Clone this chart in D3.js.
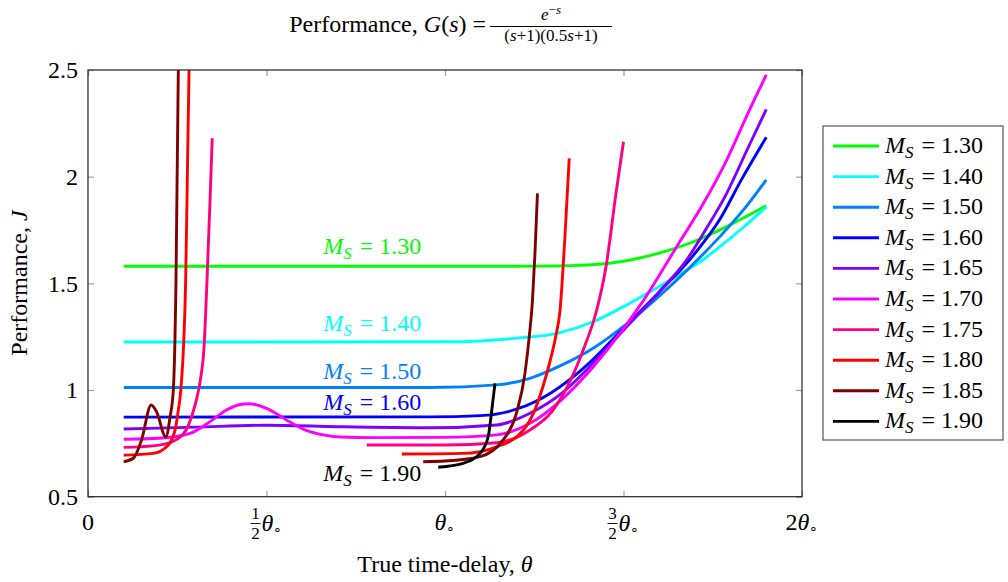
<!DOCTYPE html>
<html><head><meta charset="utf-8">
<script src="https://cdn.jsdelivr.net/npm/d3@7"></script>
<style>
body{margin:0;background:#fff;}
svg text{font-family:"Liberation Serif","Times New Roman",serif;fill:#000;}
</style>
</head><body>
<svg id="chart" width="1008" height="582"></svg>
<script>
// ---------- data ----------
const seriesLabels = ["1.30","1.40","1.50","1.60","1.65","1.70","1.75","1.80","1.85","1.90"];
const seriesColors = ["#00ff00","#00ffff","#0080ff","#0000ff","#8000ff","#ff00ff","#ff0080","#ff0000","#800000","#000000"];

const xTickValues = [0, 0.5, 1, 1.5, 2];
const xTickNum    = ["", "1", "", "3", ""];
const xTickDen    = ["", "2", "", "2", ""];
const xTickMain   = ["0", "θ", "θ", "θ", "2θ"];
const xTickSub    = ["", "∘", "∘", "∘", "∘"];
const yTickValues = [0.5, 1, 1.5, 2, 2.5];
const yTickLabels = ["0.5", "1", "1.5", "2", "2.5"];

// [theta / theta0, J]
const ms130 = [[0.1,1.58],[1.2,1.58],[1.35,1.583],[1.46,1.594],[1.6,1.642],[1.696,1.695],[1.789,1.766],[1.9,1.864]];
const ms140 = [[0.1,1.225],[1.0,1.226],[1.1,1.23],[1.2,1.243],[1.32,1.268],[1.415,1.32],[1.51,1.40],[1.6,1.485],[1.66,1.545],[1.724,1.612],[1.77,1.672],[1.836,1.763],[1.9,1.858]];
const ms150 = [[0.1,1.012],[0.96,1.012],[1.145,1.024],[1.238,1.055],[1.331,1.12],[1.415,1.196],[1.509,1.31],[1.6,1.44],[1.686,1.575],[1.77,1.719],[1.836,1.844],[1.9,1.985]];
const ms160 = [[0.1,0.873],[0.96,0.874],[1.1,0.88],[1.2,0.91],[1.3,0.99],[1.4,1.12],[1.5,1.29],[1.6,1.46],[1.69,1.62],[1.77,1.80],[1.83,1.985],[1.9,2.185]];
const ms165 = [[0.1,0.817],[0.3,0.826],[0.5,0.835],[0.7,0.828],[0.96,0.823],[1.145,0.836],[1.238,0.891],[1.331,0.99],[1.4,1.10],[1.5,1.28],[1.6,1.46],[1.677,1.61],[1.724,1.735],[1.789,1.922],[1.846,2.125],[1.9,2.316]];
const ms170 = [[0.1,0.769],[0.2,0.774],[0.286,0.797],[0.342,0.852],[0.388,0.906],[0.426,0.932],[0.45,0.936],[0.5,0.914],[0.566,0.85],[0.613,0.81],[0.659,0.79],[0.706,0.78],[0.8,0.777],[1.0,0.778],[1.145,0.79],[1.238,0.844],[1.33,0.96],[1.4,1.08],[1.46,1.2],[1.556,1.42],[1.649,1.672],[1.724,1.875],[1.789,2.078],[1.853,2.313],[1.9,2.477]];
const ms175Left  = [[0.1,0.731],[0.2,0.742],[0.25,0.77],[0.28,0.83],[0.3,0.93],[0.315,1.05],[0.325,1.2],[0.333,1.5],[0.341,1.85],[0.348,2.18]];
const ms175Right = [[0.781,0.742],[1.0,0.742],[1.145,0.753],[1.238,0.813],[1.3,0.9],[1.35,1.04],[1.39,1.2],[1.425,1.375],[1.451,1.578],[1.479,1.922],[1.5,2.164]];
const ms180Left  = [[0.1,0.695],[0.183,0.703],[0.22,0.734],[0.244,0.813],[0.253,0.906],[0.26,1.0],[0.2736,1.516],[0.279,2.08],[0.283,2.5]];
const ms180Right = [[0.879,0.7],[1.05,0.703],[1.145,0.734],[1.22,0.813],[1.25,0.9],[1.275,1.02],[1.295,1.14],[1.31,1.25],[1.322,1.37],[1.336,1.72],[1.348,2.086]];
const ms185Left  = [[0.1,0.664],[0.127,0.68],[0.15,0.766],[0.177,0.93],[0.192,0.898],[0.218,0.78],[0.23,0.875],[0.239,1.0],[0.2465,1.516],[0.253,2.5]];
const ms185Right = [[0.939,0.664],[1.0,0.667],[1.098,0.6875],[1.163,0.766],[1.2,0.891],[1.224,1.078],[1.236,1.25],[1.245,1.42],[1.252,1.64],[1.259,1.922]];
const ms190 = [[0.981,0.638],[1.05,0.656],[1.098,0.703],[1.121,0.781],[1.13,0.891],[1.14,1.031]];

const seriesSegments = [[ms130],[ms140],[ms150],[ms160],[ms165],[ms170],[ms175Left,ms175Right],[ms180Left,ms180Right],[ms185Left,ms185Right],[ms190]];

// inline labels: series index, theta, J (baseline)
const inlineLabelSeries = [0, 1, 2, 3, 9];
const inlineLabelTheta  = [0.796, 0.796, 0.796, 0.796, 0.796];
const inlineLabelJ      = [1.638, 1.275, 1.052, 0.906, 0.573];

// ---------- drawing ----------
const svg = d3.select("#chart");
const FS = 24;
const x = d3.scaleLinear().domain([0, 2]).range([88, 802]);
const y = d3.scaleLinear().domain([0.5, 2.5]).range([496.7, 70]);
const [x0, x1] = x.range(), [yb, yt] = y.range();

svg.append("defs").append("clipPath").attr("id","plotclip")
  .append("rect").attr("x",x0).attr("y",yt).attr("width",x1-x0).attr("height",yb-yt);

function styleAxis(g){
  g.select(".domain").remove();
  g.selectAll(".tick line").attr("stroke","#a0a0a0").attr("stroke-width",1.2);
  g.attr("font-family",null).attr("font-size",FS);
}
svg.append("g").attr("transform",`translate(0,${yb})`)
  .call(d3.axisBottom(x).tickValues(xTickValues).tickSize(-6).tickFormat("")).call(styleAxis);
svg.append("g").attr("transform",`translate(0,${yt})`)
  .call(d3.axisTop(x).tickValues(xTickValues).tickSize(-6).tickFormat("")).call(styleAxis);
svg.append("g").attr("transform",`translate(${x0},0)`)
  .call(d3.axisLeft(y).tickValues(yTickValues).tickSize(-6).tickPadding(10)
    .tickFormat((d,i)=>yTickLabels[i])).call(styleAxis);
svg.append("g").attr("transform",`translate(${x1},0)`)
  .call(d3.axisRight(y).tickValues(yTickValues).tickSize(-6).tickFormat("")).call(styleAxis);

// x tick labels
xTickValues.forEach((v,i)=>{
  const tx = x(v);
  const g = svg.append("g");
  if (xTickNum[i]) {
    const fx = tx - 11;
    g.append("text").attr("x",fx).attr("y",519).attr("text-anchor","middle").attr("font-size",17).text(xTickNum[i]);
    g.append("line").attr("x1",fx-5).attr("x2",fx+5).attr("y1",523.5).attr("y2",523.5).attr("stroke","#000").attr("stroke-width",0.9);
    g.append("text").attr("x",fx).attr("y",539).attr("text-anchor","middle").attr("font-size",17).text(xTickDen[i]);
    const t = g.append("text").attr("x",tx-5).attr("y",531).attr("font-size",FS);
    t.append("tspan").attr("font-style","italic").text(xTickMain[i]);
    t.append("tspan").attr("font-size",14).attr("dy",3).text(xTickSub[i]);
  } else {
    const t = g.append("text").attr("x",tx).attr("y",530).attr("text-anchor","middle").attr("font-size",FS);
    if (xTickMain[i] === "0") { t.text("0"); }
    else {
      const m = xTickMain[i];
      if (m.length > 1) t.append("tspan").text(m.slice(0, m.length-1));
      t.append("tspan").attr("font-style","italic").text(m.slice(-1));
      t.append("tspan").attr("font-size",14).attr("dy",3).text(xTickSub[i]);
    }
  }
});

// lines
const line = d3.line().x(d=>x(d[0])).y(d=>y(d[1])).curve(d3.curveMonotoneX);
const plot = svg.append("g").attr("clip-path","url(#plotclip)");
seriesSegments.forEach((segs,i)=>{
  segs.forEach(seg=>{
    plot.append("path").attr("d",line(seg)).attr("fill","none")
      .attr("stroke",seriesColors[i]).attr("stroke-width",2.9)
      .attr("stroke-linejoin","round");
  });
});

// frame
svg.append("rect").attr("x",x0).attr("y",yt).attr("width",x1-x0).attr("height",yb-yt)
  .attr("fill","none").attr("stroke","#222").attr("stroke-width",1.2);

function msText(t, label){
  t.append("tspan").attr("font-style","italic").text("M");
  t.append("tspan").attr("font-style","italic").attr("font-size",17).attr("dy",5).text("S");
  t.append("tspan").attr("dy",-5).text("\u2004=\u2005" + label);
}

// inline labels
inlineLabelSeries.forEach((si,k)=>{
  const t = svg.append("text").attr("x",x(inlineLabelTheta[k])).attr("y",y(inlineLabelJ[k]))
    .attr("text-anchor","middle").attr("font-size",FS).style("fill",seriesColors[si]);
  msText(t, seriesLabels[si]);
});

// legend
const lg = svg.append("g");
lg.append("rect").attr("x",823).attr("y",126).attr("width",180).attr("height",314)
  .attr("fill","#fff").attr("stroke","#555").attr("stroke-width",1.2);
seriesLabels.forEach((lab,i)=>{
  const cy = 146 + i*30.6;
  lg.append("line").attr("x1",833).attr("x2",879).attr("y1",cy).attr("y2",cy)
    .attr("stroke",seriesColors[i]).attr("stroke-width",2.9);
  const t = lg.append("text").attr("x",885).attr("y",cy+7).attr("font-size",FS);
  msText(t, lab);
});

// axis titles
const xl = svg.append("text").attr("x",445).attr("y",572).attr("text-anchor","middle").attr("font-size",FS);
xl.append("tspan").text("True time-delay, ");
xl.append("tspan").attr("font-style","italic").text("θ");
const yl = svg.append("text").attr("transform","translate(27,283) rotate(-90)").attr("text-anchor","middle").attr("font-size",FS);
yl.append("tspan").text("Performance, ");
yl.append("tspan").attr("font-style","italic").text("J");

// title
const tt = svg.append("text").attr("x",486).attr("y",32).attr("text-anchor","end").attr("font-size",FS);
tt.append("tspan").text("Performance, ");
tt.append("tspan").attr("font-style","italic").text("G");
tt.append("tspan").text("(");
tt.append("tspan").attr("font-style","italic").text("s");
tt.append("tspan").text(")\u2005=");
const num = svg.append("text").attr("x",551).attr("y",20).attr("text-anchor","middle").attr("font-size",17);
num.append("tspan").attr("font-style","italic").text("e");
num.append("tspan").attr("font-size",13).attr("dy",-6).text("−");
num.append("tspan").attr("font-size",13).attr("font-style","italic").text("s");
svg.append("line").attr("x1",490).attr("x2",612).attr("y1",26.5).attr("y2",26.5).attr("stroke","#000").attr("stroke-width",1);
const den = svg.append("text").attr("x",551).attr("y",41).attr("text-anchor","middle").attr("font-size",17);
[["(",0],["s",1],["+1)(0.5",0],["s",1],["+1)",0]].forEach(p=>{
  const ts = den.append("tspan").text(p[0]);
  if (p[1]) ts.attr("font-style","italic");
});
</script>
</body></html>
